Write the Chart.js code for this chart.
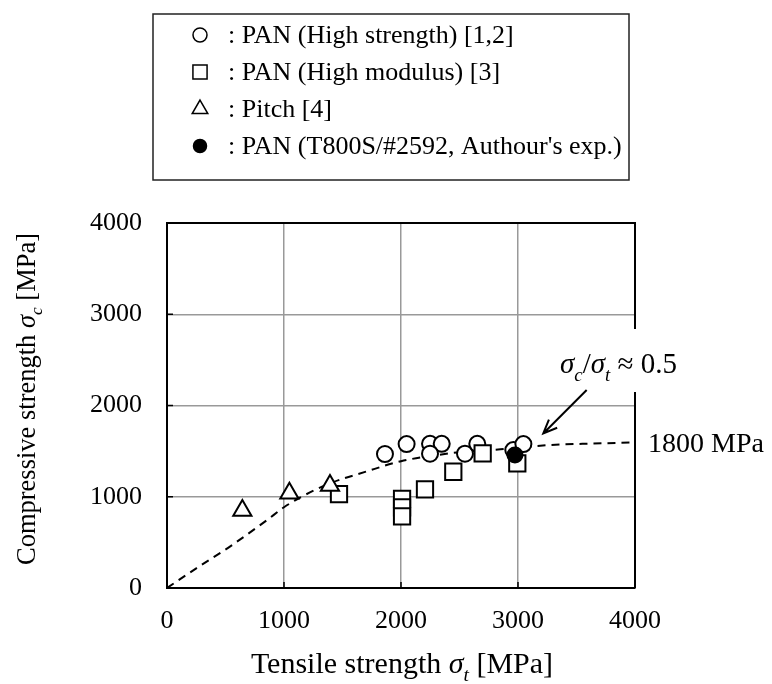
<!DOCTYPE html>
<html>
<head>
<meta charset="utf-8">
<script src="https://cdn.jsdelivr.net/npm/chart.js@4"></script>
<style>
  body { margin: 0; background: #fff; }
  #wrap { position: relative; width: 772px; height: 684px; }
</style>
</head>
<body>
<div id="wrap"><canvas id="chart"></canvas></div>
<script>
// tick values on both axes
const xTicks = [0, 1000, 2000, 3000, 4000];
const yTicks = [0, 1000, 2000, 3000, 4000];

// PAN (High strength) [1,2]
const highStrengthX = [1863, 2048, 2248, 2348, 2248, 2547, 2652, 2960, 3046];
const highStrengthY = [1468, 1577, 1580, 1580, 1472, 1472, 1580, 1511, 1577];

// PAN (High modulus) [3]
const highModulusX = [1470, 2009, 2009, 2009, 2205, 2447, 2698, 2994];
const highModulusY = [1030, 978, 884, 785, 1081, 1274, 1475, 1365];

// Pitch [4]
const pitchX = [644, 1046, 1393];
const pitchY = [850, 1038, 1122];

// PAN (T800S/#2592, Authour's exp.)
const authorX = [2974];
const authorY = [1457];

// dashed trend curve
const trendX = [0, 250, 550, 850, 1000, 1150, 1400, 1700, 2000, 2300, 2550, 2850, 3250, 3550, 4000];
const trendY = [0, 215, 465, 740, 885, 1000, 1150, 1275, 1390, 1455, 1495, 1520, 1565, 1580, 1595];

const legendLabels = [
  ": PAN (High strength) [1,2]",
  ": PAN (High modulus) [3]",
  ": Pitch [4]",
  ": PAN (T800S/#2592, Authour's exp.)"
];

const FONT = '"Liberation Serif", "Times New Roman", serif';
const toPoints = (xs, ys) => xs.map((x, i) => ({ x: x, y: ys[i] }));

// draws text made of several runs (italic, subscript), left aligned at x
const richWidth = (ctx, parts, size) => {
  let w = 0;
  parts.forEach((p) => {
    ctx.font = (p.italic ? "italic " : "") + (p.sub ? size * 0.65 : size) + "px " + FONT;
    w += ctx.measureText(p.t).width;
  });
  return w;
};
const richText = (ctx, parts, x, y, size) => {
  ctx.textAlign = "left";
  ctx.textBaseline = "alphabetic";
  parts.forEach((p) => {
    ctx.font = (p.italic ? "italic " : "") + (p.sub ? size * 0.65 : size) + "px " + FONT;
    ctx.fillText(p.t, x, y + (p.sub ? size * 0.28 : 0));
    x += ctx.measureText(p.t).width;
  });
};

const decorations = {
  id: "decorations",
  afterDraw(chart) {
    const ctx = chart.ctx;
    const a = chart.chartArea;
    const xs = chart.scales.x;
    const ys = chart.scales.y;
    ctx.save();

    // top and right frame
    ctx.strokeStyle = "#000";
    ctx.lineWidth = 2;
    ctx.beginPath();
    ctx.moveTo(a.left, a.top);
    ctx.lineTo(a.right, a.top);
    ctx.lineTo(a.right, a.bottom);
    ctx.stroke();

    // short inward ticks
    ctx.lineWidth = 1.5;
    ctx.beginPath();
    yTicks.forEach((v) => {
      const py = ys.getPixelForValue(v);
      ctx.moveTo(a.left, py);
      ctx.lineTo(a.left + 6, py);
    });
    xTicks.forEach((v) => {
      const px = xs.getPixelForValue(v);
      ctx.moveTo(px, a.bottom);
      ctx.lineTo(px, a.bottom - 6);
    });
    ctx.stroke();

    // ratio annotation with white background
    const ann = [
      { t: "σ", italic: true },
      { t: "c", italic: true, sub: true },
      { t: "/" },
      { t: "σ", italic: true },
      { t: "t", italic: true, sub: true },
      { t: " ≈ 0.5" }
    ];
    ctx.fillStyle = "#fff";
    ctx.fillRect(556, 329, 128, 63);
    ctx.fillStyle = "#000";
    richText(ctx, ann, 560, 373, 29);

    // arrow
    const tx = xs.getPixelForValue(3216), ty = ys.getPixelForValue(1694);
    const fx = xs.getPixelForValue(3587), fy = ys.getPixelForValue(2169);
    const ang = Math.atan2(ty - fy, tx - fx);
    ctx.lineWidth = 2;
    ctx.beginPath();
    ctx.moveTo(fx, fy);
    ctx.lineTo(tx, ty);
    ctx.moveTo(tx - 15 * Math.cos(ang - 0.4), ty - 15 * Math.sin(ang - 0.4));
    ctx.lineTo(tx, ty);
    ctx.lineTo(tx - 15 * Math.cos(ang + 0.4), ty - 15 * Math.sin(ang + 0.4));
    ctx.stroke();

    // asymptote label
    ctx.font = "28px " + FONT;
    ctx.textAlign = "left";
    ctx.textBaseline = "alphabetic";
    ctx.fillText("1800 MPa", 648, 452);

    // axis titles
    const xt = [
      { t: "Tensile strength " },
      { t: "σ", italic: true },
      { t: "t", italic: true, sub: true },
      { t: " [MPa]" }
    ];
    richText(ctx, xt, 402 - richWidth(ctx, xt, 30) / 2, 673, 30);
    const yt = [
      { t: "Compressive strength " },
      { t: "σ", italic: true },
      { t: "c", italic: true, sub: true },
      { t: " [MPa]" }
    ];
    ctx.save();
    ctx.translate(35, 399);
    ctx.rotate(-Math.PI / 2);
    richText(ctx, yt, -richWidth(ctx, yt, 26.5) / 2, 0, 26.5);
    ctx.restore();

    // legend box
    ctx.strokeStyle = "#222";
    ctx.lineWidth = 1.5;
    ctx.strokeRect(153, 14, 476, 166);
    const metas = [0, 1, 2, 3].map((i) => chart.data.datasets[i]);
    legendLabels.forEach((label, i) => {
      const ds = metas[i];
      const cy = 35 + i * 37;
      ctx.strokeStyle = "#000";
      ctx.fillStyle = ds.pointBackgroundColor;
      ctx.lineWidth = 1.5;
      Chart.helpers.drawPoint(ctx, {
        pointStyle: ds.pointStyle,
        radius: ds.legendRadius,
        borderWidth: 1.5,
        rotation: 0
      }, 200, cy);
      ctx.fillStyle = "#000";
      ctx.font = "26px " + FONT;
      ctx.textAlign = "left";
      ctx.textBaseline = "alphabetic";
      ctx.fillText(label, 228, cy + 8);
    });

    ctx.restore();
  }
};

const markerBase = {
  showLine: false,
  borderColor: "#000",
  pointBorderColor: "#000",
  pointBorderWidth: 2,
  pointHoverRadius: 8
};

new Chart(document.getElementById("chart"), {
  type: "scatter",
  data: {
    datasets: [
      {
        ...markerBase,
        label: legendLabels[0],
        data: toPoints(highStrengthX, highStrengthY),
        pointStyle: "circle",
        pointRadius: 8,
        legendRadius: 7,
        pointBackgroundColor: "#fff",
        order: 4
      },
      {
        ...markerBase,
        label: legendLabels[1],
        data: toPoints(highModulusX, highModulusY),
        pointStyle: "rect",
        pointRadius: 11.5,
        legendRadius: 10,
        pointBackgroundColor: "#fff",
        order: 3
      },
      {
        ...markerBase,
        label: legendLabels[2],
        data: toPoints(pitchX, pitchY),
        pointStyle: "triangle",
        pointRadius: 10.5,
        legendRadius: 9,
        pointBackgroundColor: "#fff",
        order: 2
      },
      {
        ...markerBase,
        label: legendLabels[3],
        data: toPoints(authorX, authorY),
        pointStyle: "circle",
        pointRadius: 7.5,
        legendRadius: 6.5,
        pointBackgroundColor: "#000",
        order: 1
      },
      {
        label: "trend",
        data: toPoints(trendX, trendY),
        showLine: true,
        borderColor: "#000",
        borderWidth: 2,
        borderDash: [8, 6],
        pointRadius: 0,
        cubicInterpolationMode: "monotone",
        order: 10
      }
    ]
  },
  options: {
    responsive: true,
    maintainAspectRatio: false,
    animation: false,
    layout: { padding: { top: 223, right: 137, left: 0, bottom: 0 } },
    plugins: {
      legend: { display: false },
      tooltip: { enabled: false }
    },
    scales: {
      x: {
        type: "linear",
        min: 0,
        max: 4000,
        afterFit: (s) => { s.height = 96; },
        afterBuildTicks: (s) => { s.ticks = xTicks.map((v) => ({ value: v })); },
        ticks: {
          color: "#000",
          font: { family: FONT, size: 26 },
          padding: 18,
          callback: (v) => String(v)
        },
        grid: { color: "#999", lineWidth: 1.5, drawTicks: false },
        border: { color: "#000", width: 2 }
      },
      y: {
        type: "linear",
        min: 0,
        max: 4000,
        afterFit: (s) => { s.width = 167; },
        afterBuildTicks: (s) => { s.ticks = yTicks.map((v) => ({ value: v })); },
        ticks: {
          color: "#000",
          font: { family: FONT, size: 26 },
          padding: 25,
          callback: (v) => String(v)
        },
        grid: { color: "#999", lineWidth: 1.5, drawTicks: false },
        border: { color: "#000", width: 2 }
      }
    }
  },
  plugins: [decorations]
});
</script>
</body>
</html>
